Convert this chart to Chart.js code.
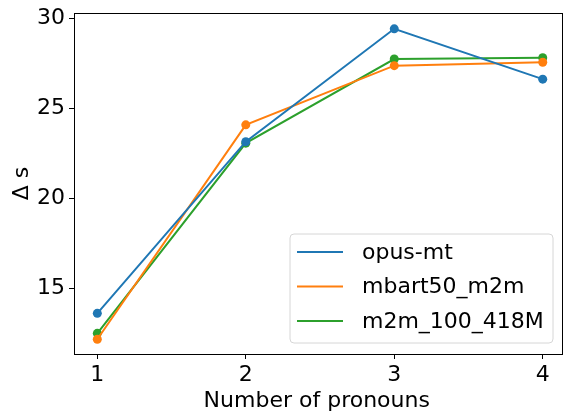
<!DOCTYPE html>
<html>
<head>
<meta charset="utf-8">
<script src="https://cdn.jsdelivr.net/npm/chart.js@4.4.0/dist/chart.umd.min.js"></script>
<style>
  html, body { margin: 0; padding: 0; background: #fff; }
  #wrap { width: 564px; height: 412px; }
</style>
</head>
<body>
<div id="wrap"><canvas id="chart" width="564" height="412"></canvas></div>
<script>
// data
const pronounCounts = [1, 2, 3, 4];
const opusMt = [13.6, 23.15, 29.43, 26.63];
const mbart50 = [12.16, 24.09, 27.38, 27.57];
const m2m100 = [12.49, 23.07, 27.75, 27.82];
const xTicks = [1, 2, 3, 4];
const yTicks = [15, 20, 25, 30];

const FONT = "'DejaVu Sans', sans-serif";
const FS = 22;

function series(label, values, color) {
    return {
        label: label,
        data: pronounCounts.map((x, i) => ({ x: x, y: values[i] })),
        borderColor: color,
        backgroundColor: color,
        borderWidth: 2,
        pointRadius: 4.5,
        pointHoverRadius: 4.5,
        pointBorderWidth: 0,
        tension: 0
    };
}

// legend drawn inside the plot, matplotlib style
const innerLegend = {
    id: 'innerLegend',
    afterDraw(chart) {
        const ctx = chart.ctx;
        const x = 290, y = 234, w = 263, h = 109, r = 4;
        ctx.save();
        ctx.beginPath();
        ctx.moveTo(x + r, y);
        ctx.arcTo(x + w, y, x + w, y + h, r);
        ctx.arcTo(x + w, y + h, x, y + h, r);
        ctx.arcTo(x, y + h, x, y, r);
        ctx.arcTo(x, y, x + w, y, r);
        ctx.closePath();
        ctx.fillStyle = 'rgba(255,255,255,0.8)';
        ctx.fill();
        ctx.strokeStyle = '#d6d6d6';
        ctx.lineWidth = 1;
        ctx.stroke();

        ctx.font = FS + 'px ' + FONT;
        ctx.textBaseline = 'middle';
        ctx.fillStyle = '#000';
        chart.data.datasets.forEach((ds, i) => {
            const cy = 252 + i * 34.5;
            ctx.strokeStyle = ds.borderColor;
            ctx.lineWidth = 2;
            ctx.beginPath();
            ctx.moveTo(297, cy);
            ctx.lineTo(343, cy);
            ctx.stroke();
            ctx.fillText(ds.label, 362, cy + 1);
        });
        ctx.restore();
    }
};

new Chart(document.getElementById('chart'), {
    type: 'line',
    data: {
        datasets: [
            series('opus-mt', opusMt, '#1f77b4'),
            series('mbart50_m2m', mbart50, '#ff7f0e'),
            series('m2m_100_418M', m2m100, '#2ca02c')
        ]
    },
    options: {
        responsive: false,
        animation: false,
        events: [],
        layout: { padding: { top: 13, right: 0, bottom: -2, left: 0 } },
        plugins: { legend: { display: false }, tooltip: { enabled: false } },
        scales: {
            x: {
                type: 'linear',
                // chart area ends at 559px, the axis keeps going to the edge
                min: 0.843,
                max: 4.113,
                afterBuildTicks: s => { s.ticks = xTicks.map(v => ({ value: v })); },
                afterFit: s => {
                    s.height = 60;
                    s.paddingLeft = 0;
                    s.paddingRight = 0;
                },
                grid: {
                    drawOnChartArea: false,
                    drawTicks: true,
                    tickLength: 5,
                    color: '#000',
                    tickWidth: 1
                },
                border: { display: true, color: '#000', width: 1 },
                ticks: {
                    color: '#000',
                    font: { family: FONT, size: FS },
                    padding: 3,
                    maxRotation: 0
                },
                title: {
                    display: true,
                    text: 'Number of pronouns',
                    color: '#000',
                    font: { family: FONT, size: FS },
                    padding: { top: 0, bottom: 0 }
                }
            },
            y: {
                min: 11.34,
                max: 30.31,
                afterBuildTicks: s => { s.ticks = yTicks.map(v => ({ value: v })); },
                afterFit: s => {
                    s.width = 74;
                    s.paddingTop = 0;
                    s.paddingBottom = 0;
                },
                grid: {
                    drawOnChartArea: false,
                    drawTicks: true,
                    tickLength: 5,
                    color: '#000',
                    tickWidth: 1
                },
                border: { display: true, color: '#000', width: 1 },
                ticks: {
                    color: '#000',
                    font: { family: FONT, size: FS },
                    padding: 4
                },
                title: {
                    display: true,
                    text: 'Δ s',
                    color: '#000',
                    font: { family: FONT, size: FS },
                    padding: { top: 9, bottom: 0 }
                }
            }
        }
    },
    plugins: [innerLegend, {
        id: 'frame',
        afterDatasetsDraw(chart) {
            // spines: extend bottom/top to the right spine, draw top and right
            const a = chart.chartArea, ctx = chart.ctx;
            ctx.save();
            ctx.strokeStyle = '#000';
            ctx.lineWidth = 1;
            ctx.beginPath();
            ctx.moveTo(a.left, a.top + 0.5);
            ctx.lineTo(563, a.top + 0.5);
            ctx.moveTo(a.right - 1, a.bottom + 0.5);
            ctx.lineTo(563, a.bottom + 0.5);
            ctx.moveTo(562.5, a.top);
            ctx.lineTo(562.5, a.bottom + 1);
            ctx.stroke();
            ctx.restore();
        }
    }]
});
</script>
</body>
</html>
